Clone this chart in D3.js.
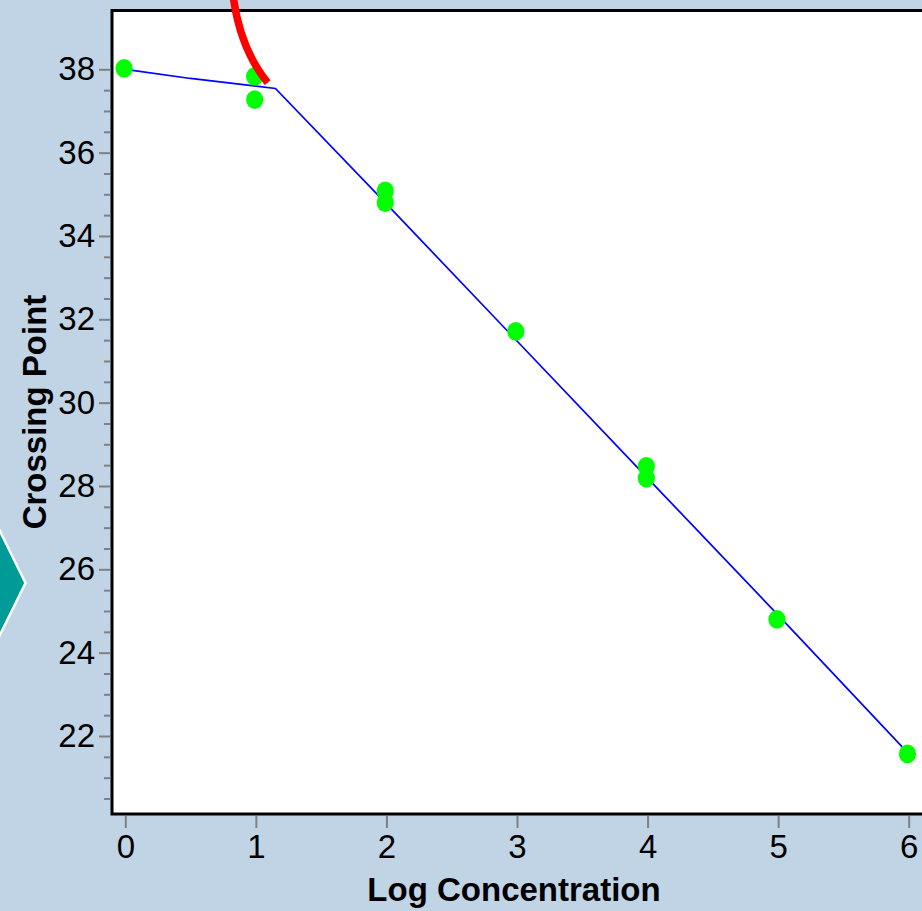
<!DOCTYPE html>
<html>
<head>
<meta charset="utf-8">
<script src="https://cdn.jsdelivr.net/npm/d3@7"></script>
<style>
  html, body { margin: 0; padding: 0; background: #c1d4e6; }
  svg { display: block; }
</style>
</head>
<body>
<svg id="chart" width="922" height="911"></svg>
<script>
// measured standards (log concentration vs crossing point)
const pointX = [0, 1, 1, 2, 2, 3, 4, 4, 5, 6];
const pointY = [38.02, 37.83, 37.27, 35.08, 34.80, 31.71, 28.47, 28.19, 24.80, 21.57];

// fitted curve
const fitX = [0, 0.5, 1.15, 2, 3, 4, 5, 5.95];
const fitY = [38.00, 37.78, 37.54, 34.77, 31.48, 28.19, 24.90, 21.74];

const xTicks = [0, 1, 2, 3, 4, 5, 6];
const yTicks = [22, 24, 26, 28, 30, 32, 34, 36, 38];

// red annotation stroke (start, control, end) in data units
const arcX = [0.82, 0.87, 1.09];
const arcY = [39.90, 38.52, 37.68];

const svg = d3.select("#chart");
const W = 922, H = 911;
const plotLeft = 112, plotTop = 10.5, plotBottom = 814;

const x = d3.scaleLinear().domain([0, 6]).range([125.3, 908.7]);
const y = d3.scaleLinear().domain([22, 38]).range([736, 69.3]);

// background
svg.append("rect").attr("width", W).attr("height", H).attr("fill", "#c1d4e6");

// teal arrow on the left edge
svg.append("path")
  .attr("d", "M-40,450L25.5,583L-40,716Z")
  .attr("fill", "#009b96").attr("stroke", "#fff").attr("stroke-width", 2.5);

// plot area
svg.append("rect")
  .attr("x", plotLeft).attr("y", plotTop)
  .attr("width", 900).attr("height", plotBottom - plotTop)
  .attr("fill", "#fff");

// fitted line
const line = d3.line().x((d, i) => x(fitX[i])).y((d, i) => y(fitY[i]));
svg.append("path").datum(fitX).attr("d", line)
  .attr("fill", "none").attr("stroke", "#0000ff").attr("stroke-width", 1.7);

// points
svg.append("g").selectAll("ellipse").data(pointX).join("ellipse")
  .attr("cx", (d, i) => x(d) - 1.2)
  .attr("cy", (d, i) => y(pointY[i]))
  .attr("rx", 8.6).attr("ry", 9.4)
  .attr("fill", "#00ff00");

// frame
svg.append("rect")
  .attr("x", plotLeft).attr("y", plotTop)
  .attr("width", 900).attr("height", plotBottom - plotTop)
  .attr("fill", "none").attr("stroke", "#000").attr("stroke-width", 3);

// x axis
const xAxis = svg.append("g").attr("transform", `translate(0,${plotBottom + 2})`)
  .call(d3.axisBottom(x).tickValues(xTicks).tickSize(12).tickPadding(7).tickFormat(d3.format("d")));
xAxis.select(".domain").remove();

// y axis, major + minor
const yMinor = d3.range(20.5, 38.01, 0.5).filter(v => v % 2 !== 0);
const yMinorAxis = svg.append("g").attr("transform", `translate(${plotLeft - 2},0)`)
  .call(d3.axisLeft(y).tickValues(yMinor).tickSize(6).tickFormat(""));
yMinorAxis.select(".domain").remove();

const yAxis = svg.append("g").attr("transform", `translate(${plotLeft - 2},0)`)
  .call(d3.axisLeft(y).tickValues(yTicks).tickSize(11).tickPadding(4).tickFormat(d3.format("d")));
yAxis.select(".domain").remove();

svg.selectAll(".tick line").attr("stroke", "#808080").attr("stroke-width", 2);
svg.selectAll(".tick text")
  .attr("fill", "#000")
  .style("font-family", "'Liberation Sans Narrow', 'Arial Narrow', 'Liberation Sans', sans-serif")
  .style("font-size", "33px");

// axis titles
svg.append("text")
  .attr("x", 514).attr("y", 901)
  .attr("text-anchor", "middle")
  .style("font-family", "'Liberation Sans', Arial, sans-serif")
  .style("font-weight", "bold").style("font-size", "33px")
  .text("Log Concentration");

svg.append("text")
  .attr("transform", "translate(45.5,412) rotate(-90)")
  .attr("text-anchor", "middle")
  .style("font-family", "'Liberation Sans', Arial, sans-serif")
  .style("font-weight", "bold").style("font-size", "33px")
  .text("Crossing Point");

// red annotation stroke
const p = d3.path();
p.moveTo(x(arcX[0]), y(arcY[0]));
p.quadraticCurveTo(x(arcX[1]), y(arcY[1]), x(arcX[2]), y(arcY[2]));
svg.append("path").attr("d", p.toString())
  .attr("fill", "none").attr("stroke", "#ff0000").attr("stroke-width", 7.5);
</script>
</body>
</html>
